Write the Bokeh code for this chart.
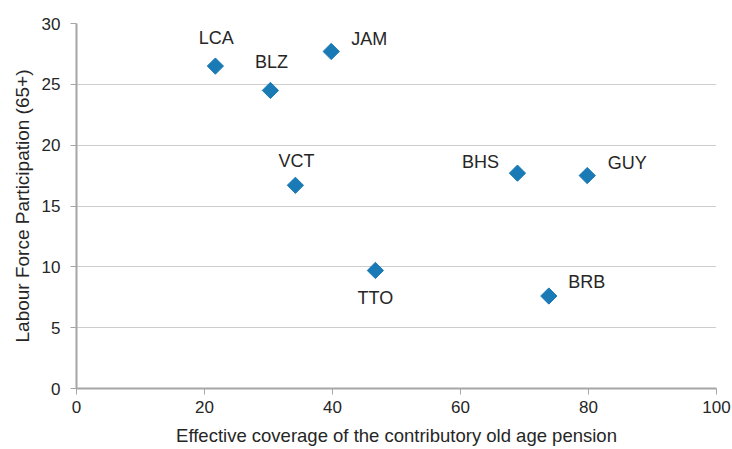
import math
from bokeh.plotting import figure
from bokeh.models import ColumnDataSource, LabelSet, Range1d, FixedTicker
from bokeh.core.properties import value
from bokeh.embed import file_html
from bokeh.resources import INLINE

countries = ["LCA", "BLZ", "JAM", "VCT", "TTO", "BHS", "GUY", "BRB"]
coverage = [21.7, 30.3, 39.8, 34.2, 46.7, 68.9, 79.8, 73.8]
participation = [26.5, 24.5, 27.7, 16.7, 9.7, 17.7, 17.5, 7.6]
x_ticks = [0, 20, 40, 60, 80, 100]
y_ticks = [0, 5, 10, 15, 20, 25, 30]

# label placement (pixels)
label_dx = [1, 1, 38, 1, 0, -37, 40, 38]
label_dy = [28, 28, 12, 24, -28, 11, 13, 14]

src = ColumnDataSource(dict(x=coverage, y=participation, name=countries,
                            dx=label_dx, dy=label_dy))

p = figure(width=732, height=449, output_backend="svg", toolbar_location=None,
           x_range=Range1d(0, 100), y_range=Range1d(0, 30),
           min_border_left=76, min_border_right=16, min_border_top=23, min_border_bottom=61)
p.outline_line_color = None

p.scatter("x", "y", source=src, marker="square", angle=math.pi / 4, size=11.5,
          fill_color="#1a7ab5", line_color="#1a7ab5")

labels = LabelSet(x="x", y="y", text="name", source=src, x_offset="dx", y_offset="dy",
                  text_align="center", text_baseline="middle",
                  text_font=value("Liberation Sans"), text_font_size="18px",
                  text_color="#262626")
p.add_layout(labels)

p.xaxis.ticker = FixedTicker(ticks=x_ticks)
p.yaxis.ticker = FixedTicker(ticks=y_ticks)
for ax in (p.xaxis[0], p.yaxis[0]):
    ax.axis_line_color = "#a6a6a6"
    ax.axis_line_width = 2
    ax.major_tick_line_color = "#a6a6a6"
    ax.major_tick_line_width = 1
    ax.major_tick_in = 0
    ax.major_tick_out = 6
    ax.minor_tick_line_color = None
    ax.major_label_text_font = "Liberation Sans"
    ax.major_label_text_font_size = "17px"
    ax.major_label_text_color = "#262626"
    ax.axis_label_text_font = "Liberation Sans"
    ax.axis_label_text_font_style = "normal"
    ax.axis_label_text_color = "#262626"

p.xaxis.axis_label = "Effective coverage of the contributory old age pension"
p.yaxis.axis_label = "Labour Force Participation (65+)"
p.xaxis.axis_label_text_font_size = "18.5px"
p.yaxis.axis_label_text_font_size = "19px"
p.xaxis.major_label_standoff = 6
p.yaxis.major_label_standoff = 10
p.xaxis.axis_label_standoff = 9
p.yaxis.axis_label_standoff = 6

p.xgrid.grid_line_color = None
p.ygrid.grid_line_color = "#9a9a9a"
p.ygrid.grid_line_dash = "1 1"
p.ygrid.grid_line_width = 1

open("out.html", "w").write(file_html(p, INLINE))
